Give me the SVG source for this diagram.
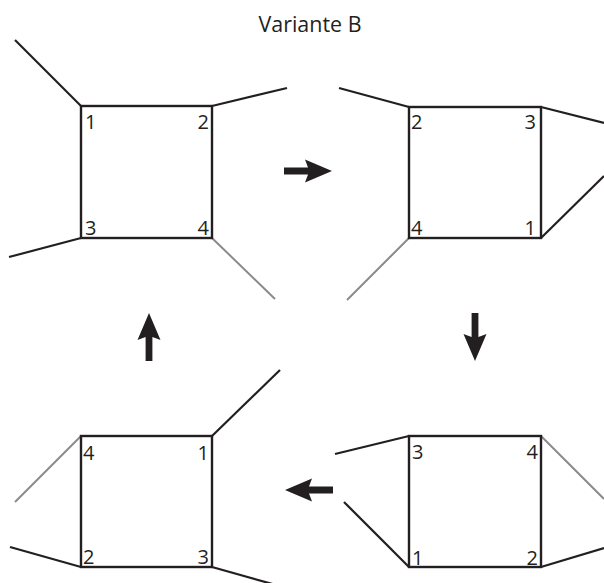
<svg xmlns="http://www.w3.org/2000/svg" xmlns:xlink="http://www.w3.org/1999/xlink" width="604" height="583" viewBox="0 0 604 583">
  <style>
    .sq { fill: none; stroke: #231f20; stroke-width: 2.4; }
    .ln { fill: none; stroke: #231f20; stroke-width: 2.2; }
    .gr { fill: none; stroke: #8a8a8a; stroke-width: 2; }
    .lb { font-family: "Open Sans", "Noto Sans", sans-serif; font-size: 20px; fill: #231f20; }
    .end { text-anchor: end; }
    .title { font-family: "Open Sans", "Noto Sans", sans-serif; font-size: 22px; fill: #231f20; text-anchor: middle; }
    .arr { fill: #231f20; }
  </style>
  <defs>
    <path id="arrow" d="M0,-3.4 L24,-3.4 L21,-11.5 L48,0 L21,11.5 L24,3.4 L0,3.4 Z"/>
  </defs>
  <rect width="604" height="583" fill="#ffffff"/>
  <text class="title" x="310" y="32" textLength="103" lengthAdjust="spacingAndGlyphs">Variante B</text>

  <g id="node-top-left">
    <line class="ln" x1="81" y1="106" x2="15" y2="40"/>
    <line class="ln" x1="212" y1="106" x2="287" y2="88"/>
    <line class="ln" x1="81" y1="238" x2="9" y2="257"/>
    <line class="gr" x1="212" y1="238" x2="275" y2="299"/>
    <rect class="sq" x="81" y="106" width="131" height="132"/>
    <text class="lb" x="85" y="129">1</text>
    <text class="lb end" x="209" y="129">2</text>
    <text class="lb" x="85" y="235">3</text>
    <text class="lb end" x="209" y="235">4</text>
  </g>

  <g id="node-top-right">
    <line class="ln" x1="409" y1="107" x2="339" y2="88"/>
    <line class="ln" x1="541" y1="107" x2="604" y2="123"/>
    <line class="ln" x1="541" y1="238" x2="604" y2="176"/>
    <line class="gr" x1="409" y1="238" x2="347" y2="300"/>
    <rect class="sq" x="409" y="107" width="132" height="131"/>
    <text class="lb" x="411" y="129">2</text>
    <text class="lb end" x="536" y="129">3</text>
    <text class="lb" x="411" y="235">4</text>
    <text class="lb end" x="536" y="235">1</text>
  </g>

  <g id="node-bottom-right">
    <line class="ln" x1="409" y1="436" x2="335" y2="454"/>
    <line class="ln" x1="409" y1="567" x2="344" y2="502"/>
    <line class="gr" x1="541" y1="436" x2="604" y2="499"/>
    <line class="ln" x1="541" y1="567" x2="604" y2="548"/>
    <rect class="sq" x="409" y="436" width="132" height="131"/>
    <text class="lb" x="412" y="459">3</text>
    <text class="lb end" x="538" y="459">4</text>
    <text class="lb" x="412" y="565">1</text>
    <text class="lb end" x="538" y="565">2</text>
  </g>

  <g id="node-bottom-left">
    <line class="ln" x1="212" y1="436" x2="280" y2="370"/>
    <line class="gr" x1="81" y1="436" x2="15" y2="502"/>
    <line class="ln" x1="81" y1="567" x2="10" y2="547"/>
    <line class="ln" x1="212" y1="567" x2="276" y2="585"/>
    <rect class="sq" x="81" y="436" width="131" height="131"/>
    <text class="lb" x="83" y="460">4</text>
    <text class="lb end" x="209" y="460">1</text>
    <text class="lb" x="83" y="564">2</text>
    <text class="lb end" x="209" y="564">3</text>
  </g>

  <g id="connectors" class="arr">
    <use xlink:href="#arrow" href="#arrow" transform="translate(284,171)"/>
    <use xlink:href="#arrow" href="#arrow" transform="translate(475,313) rotate(90)"/>
    <use xlink:href="#arrow" href="#arrow" transform="translate(333,490) rotate(180)"/>
    <use xlink:href="#arrow" href="#arrow" transform="translate(149,361) rotate(-90)"/>
  </g>
</svg>
